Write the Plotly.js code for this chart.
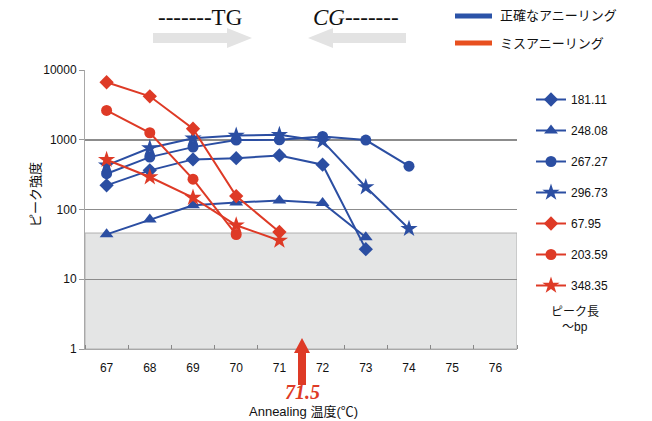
<!DOCTYPE html>
<html><head><meta charset="utf-8">
<script src="https://cdn.plot.ly/plotly-3.0.1.min.js"></script>
<style>html,body{margin:0;padding:0;background:#fff}</style>
</head><body>
<div id="chart" style="width:652px;height:421px"></div>
<script>
// ---- data ----
const temps = [67, 68, 69, 70, 71, 72, 73, 74];
const xTicks = [67, 68, 69, 70, 71, 72, 73, 74, 75, 76];
const yTickVals = [1, 10, 100, 1000, 10000];
const yTickText = ['1', '10', '100', '1000', '10000'];

const s181 = [222, 364, 523, 545, 596, 439, 27];
const s248 = [44, 72, 115, 126, 135, 124, 40];
const s267 = [326, 564, 784, 990, 1000, 1115, 990, 418];
const s296 = [430, 760, 1050, 1150, 1180, 955, 210, 53];
const s67 = [6670, 4200, 1437, 156, 47.6];
const s203 = [2630, 1260, 272, 43.8];
const s348 = [517, 292, 148, 59.4, 36];
const grayTop = 46;
const markTemp = 71.5;

const BLUE = '#2b4ea2';
const RED = '#de3a26';
const FONT = 'Liberation Sans, Noto Sans CJK JP, sans-serif';

const L = 85, R = 517, T = 70, B = 349;
const px = x => (x - L) / (R - L);
const py = y => (B - y) / (B - T);

function tr(name, ys, color, symbol, size) {
  return {
    x: temps.slice(0, ys.length), y: ys, name: name, type: 'scatter', mode: 'lines+markers',
    line: {color: color, width: 2},
    marker: {color: color, symbol: symbol, size: size},
    legendgroup: name
  };
}

const data = [
  tr('181.11', s181, BLUE, 'diamond', 11),
  tr('248.08', s248, BLUE, 'triangle-up', 12),
  tr('267.27', s267, BLUE, 'circle', 11),
  tr('296.73', s296, BLUE, 'star', 13),
  tr('67.95', s67, RED, 'diamond', 11),
  tr('203.59', s203, RED, 'circle', 11),
  tr('348.35', s348, RED, 'star', 13)
];

function poly(pts) {
  return 'M' + pts.map(p => px(p[0]) + ',' + py(p[1])).join(' L') + ' Z';
}
const ARROWGRAY = '#e3e3e3';
const shapes = [
  {type: 'rect', xref: 'x', yref: 'y', x0: 66.5, x1: 76.5, y0: 1, y1: grayTop,
   fillcolor: '#e4e5e5', line: {color: '#b0b0b0', width: 1}, layer: 'below'},
  {type: 'path', xref: 'paper', yref: 'paper', fillcolor: ARROWGRAY, line: {width: 0},
   path: poly([[153, 33], [227, 33], [227, 28], [252, 38], [227, 48], [227, 43], [153, 43]])},
  {type: 'path', xref: 'paper', yref: 'paper', fillcolor: ARROWGRAY, line: {width: 0},
   path: poly([[406, 33], [333, 33], [333, 28], [308, 38], [333, 48], [333, 43], [406, 43]])},
  {type: 'path', xref: 'paper', yref: 'paper', fillcolor: RED, line: {width: 0},
   path: poly([[302, 338], [310, 353], [306, 353], [306, 385], [298, 385], [298, 353], [294, 353]])},
  {type: 'line', xref: 'paper', yref: 'paper', x0: px(455), x1: px(492), y0: py(16), y1: py(16),
   line: {color: '#2b53a8', width: 5}},
  {type: 'line', xref: 'paper', yref: 'paper', x0: px(455), x1: px(492), y0: py(43), y1: py(43),
   line: {color: '#e8501f', width: 5}}
];

function ann(text, x, y, opts) {
  return Object.assign({text: text, xref: 'paper', yref: 'paper', x: px(x), y: py(y),
    showarrow: false, xanchor: 'center', yanchor: 'middle',
    font: {family: FONT, size: 12, color: '#111'}}, opts || {});
}
const annotations = [
  ann('-------TG', 200, 17, {font: {family: 'Liberation Serif, serif', size: 23, color: '#111'}}),
  ann('<i>CG</i>-------', 356, 17, {font: {family: 'Liberation Serif, serif', size: 23, color: '#111'}}),
  ann('正確なアニーリング', 498, 16, {xanchor: 'left', font: {family: FONT, size: 13, color: '#111'}}),
  ann('ミスアニーリング', 498, 43, {xanchor: 'left', font: {family: FONT, size: 13, color: '#111'}}),
  ann('<b><i>' + markTemp + '</i></b>', 302, 392, {font: {family: 'Liberation Serif, serif', size: 20, color: RED}}),
  ann('Annealing 温度(℃)', 303, 411, {font: {family: FONT, size: 13, color: '#111'}}),
  ann('ピーク強度', 35, 195, {textangle: -90, font: {family: FONT, size: 13, color: '#111'}}),
  ann('ピーク長', 575, 312, {font: {family: FONT, size: 12, color: '#111'}}),
  ann('〜bp', 575, 327, {font: {family: FONT, size: 12, color: '#111'}})
];

const layout = {
  width: 652, height: 421,
  margin: {l: L, r: 652 - R, t: T, b: 421 - B, pad: 0},
  paper_bgcolor: '#fff', plot_bgcolor: 'rgba(0,0,0,0)',
  font: {family: FONT, size: 12, color: '#111'},
  showlegend: true,
  legend: {x: px(531), xanchor: 'left', y: py(85), yanchor: 'top',
    tracegroupgap: 12, bgcolor: 'rgba(0,0,0,0)', font: {family: FONT, size: 12, color: '#111'}},
  xaxis: {type: 'linear', range: [66.5, 76.5], tickvals: xTicks, ticktext: xTicks.map(String),
    ticks: '', showgrid: false, zeroline: false, showline: true, linecolor: '#a8a8a8', linewidth: 1,
    tickfont: {family: FONT, size: 12, color: '#111'}, ticklabelstandoff: 8,
    minor: {tick0: 66.5, dtick: 1, ticks: 'inside', ticklen: 4, tickcolor: '#888', tickwidth: 1, showgrid: false}},
  yaxis: {type: 'log', range: [0, 4], tickvals: yTickVals, ticktext: yTickText,
    ticks: 'outside', ticklen: 5, tickcolor: '#999', showgrid: true, gridcolor: '#8c8c8c', gridwidth: 1.5,
    showline: true, linecolor: '#a8a8a8', linewidth: 1, zeroline: false,
    tickfont: {family: FONT, size: 12, color: '#111'}},
  shapes: shapes,
  annotations: annotations
};

Plotly.newPlot('chart', data, layout, {displayModeBar: false, staticPlot: true});
</script>
</body></html>
